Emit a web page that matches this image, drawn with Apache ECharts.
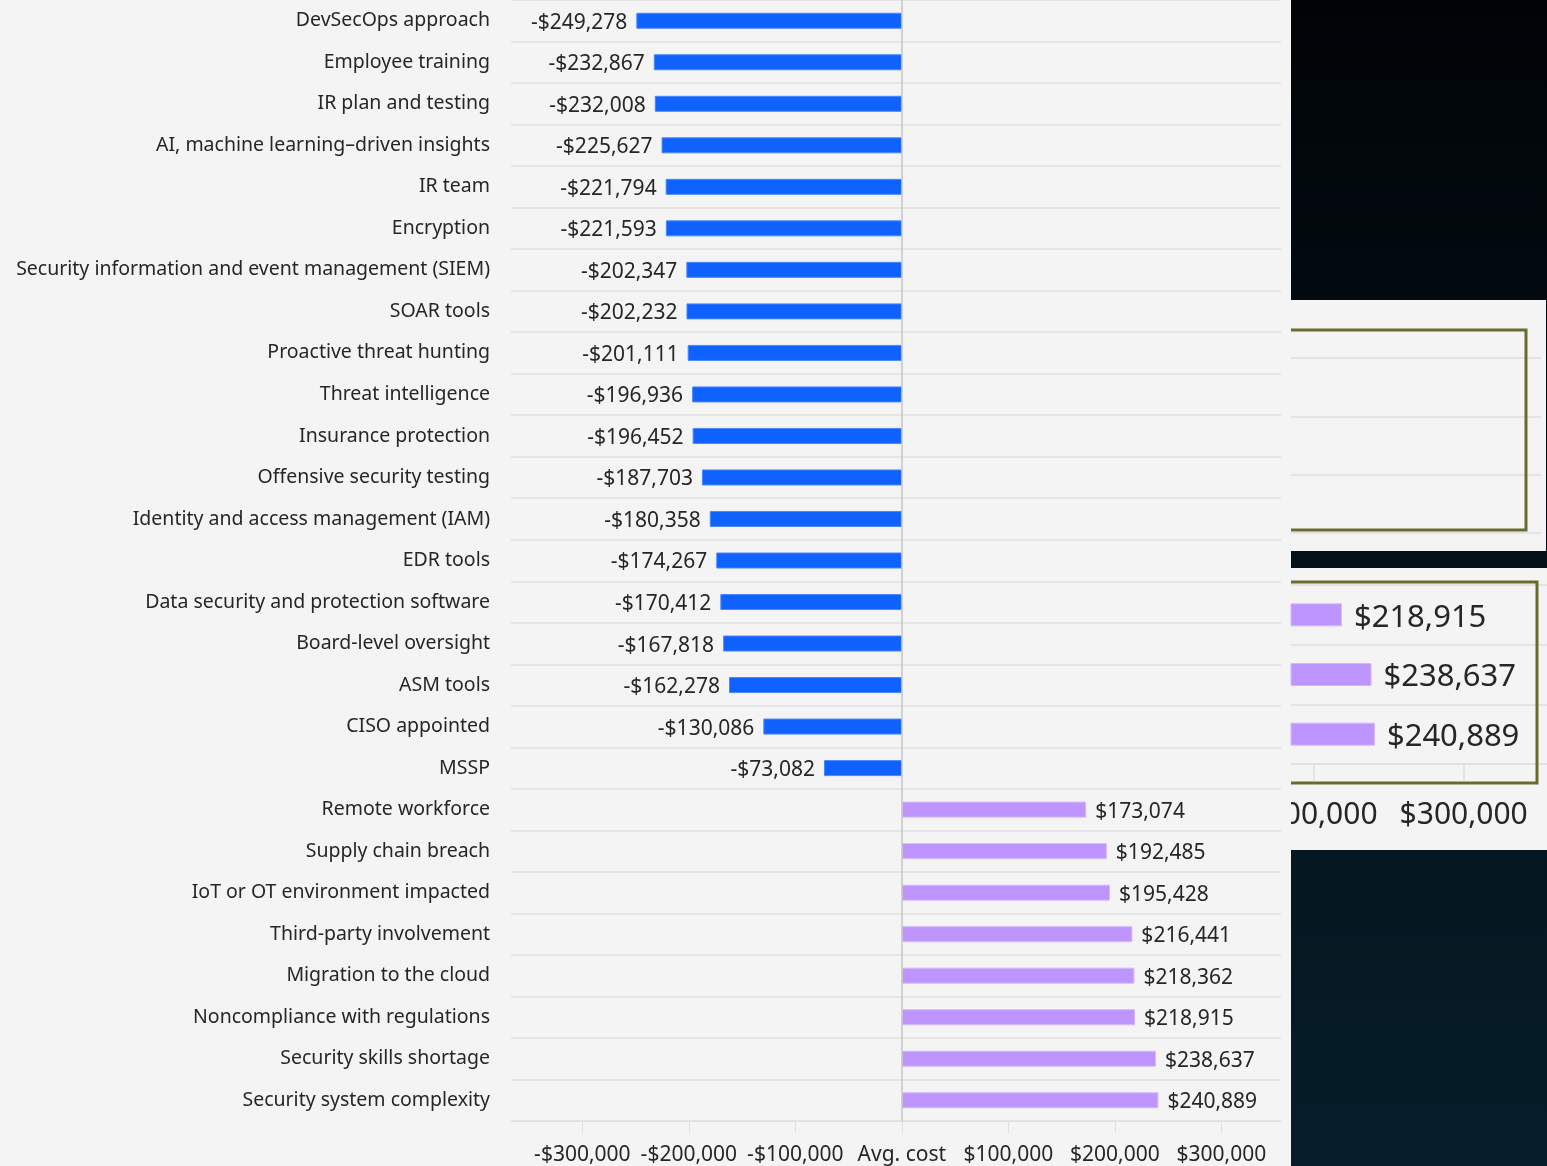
<!DOCTYPE html>
<html>
<head>
<meta charset="utf-8">
<script src="https://cdn.jsdelivr.net/npm/echarts@6/dist/echarts.min.js"></script>
<style>
html,body{margin:0;padding:0;background:#f4f4f4;}
#c{width:1547px;height:1166px;}
</style>
</head>
<body>
<div id="c"></div>
<script>
// Factors that reduce average breach cost (USD)
const reducingFactors = [
  'DevSecOps approach','Employee training','IR plan and testing','AI, machine learning–driven insights',
  'IR team','Encryption','Security information and event management (SIEM)','SOAR tools',
  'Proactive threat hunting','Threat intelligence','Insurance protection','Offensive security testing',
  'Identity and access management (IAM)','EDR tools','Data security and protection software',
  'Board-level oversight','ASM tools','CISO appointed','MSSP'
];
const reducingValues = [
  -249278,-232867,-232008,-225627,-221794,-221593,-202347,-202232,-201111,-196936,
  -196452,-187703,-180358,-174267,-170412,-167818,-162278,-130086,-73082
];
// Factors that amplify average breach cost (USD)
const amplifyingFactors = [
  'Remote workforce','Supply chain breach','IoT or OT environment impacted','Third-party involvement',
  'Migration to the cloud','Noncompliance with regulations','Security skills shortage','Security system complexity'
];
const amplifyingValues = [173074,192485,195428,216441,218362,218915,238637,240889];
// Axis tick values and labels
const tickValues = [-300000,-200000,-100000,0,100000,200000,300000];
const tickLabels = ['-$300,000','-$200,000','-$100,000','Avg. cost','$100,000','$200,000','$300,000'];
const zoomTickValues = [200000,300000];

const categories = reducingFactors.concat(amplifyingFactors);
const nR = reducingFactors.length, nA = amplifyingFactors.length;
const blueData = reducingValues.concat(new Array(nA).fill(null));
const purpleData = new Array(nR).fill(null).concat(amplifyingValues);
// zoomed inset: last three amplifying factors
const zoomCats = amplifyingFactors.slice(-3);
const zoomVals = amplifyingValues.slice(-3);

const FONT = 'Noto Sans';
const TXT = '#262626';
function money(v){
  const s = Math.abs(v).toLocaleString('en-US');
  return (v < 0 ? '-$' : '$') + s;
}
function tickFmt(v){
  const i = tickValues.indexOf(v);
  return i >= 0 ? tickLabels[i] : money(v);
}

const chart = echarts.init(document.getElementById('c'), null, {renderer:'canvas'});
chart.setOption({
  backgroundColor:'#f4f4f4',
  animation:false,
  graphic:[
    {type:'rect', z:-20, shape:{x:1291,y:0,width:256,height:1166},
     style:{fill:new echarts.graphic.LinearGradient(0,0,0,1,[{offset:0,color:'#010407'},{offset:1,color:'#061e2a'}])}},
    {type:'rect', z:-15, shape:{x:1291,y:300,width:255,height:251}, style:{fill:'#f4f4f4'}},
    {type:'rect', z:-15, shape:{x:1291,y:568,width:256,height:282}, style:{fill:'#f4f4f4'}},
    {type:'polyline', z:50, shape:{points:[[1291,330],[1526,330],[1526,530],[1291,530]]},
     style:{stroke:'#6b6a2e',lineWidth:3,fill:null}},
    {type:'polyline', z:50, shape:{points:[[1291,582],[1537,582],[1537,783],[1291,783]]},
     style:{stroke:'#6b6a2e',lineWidth:3,fill:null}},
    {type:'rect', z:100, shape:{x:1225,y:794,width:66,height:36}, style:{fill:'#f4f4f4'}}
  ],
  grid:[
    {left:511, top:0, width:770, height:1121, containLabel:false},
    {left:1291, top:585, width:261, height:179, containLabel:false},
    {left:1291, top:358, width:250, height:175, containLabel:false}
  ],
  xAxis:[
    {type:'value', gridIndex:0, min:-367000, max:356000,
     axisLine:{show:true, lineStyle:{color:'#e0e0e0', width:1}},
     axisTick:{show:true, customValues:tickValues, length:12, lineStyle:{color:'#e0e0e0'}},
     axisLabel:{customValues:tickValues, formatter:tickFmt, color:TXT, fontSize:21, fontFamily:FONT, margin:24},
     splitLine:{show:false}},
    {type:'value', gridIndex:1, min:185000, max:355500,
     axisLine:{show:true, lineStyle:{color:'#e0e0e0', width:1.5}},
     axisTick:{show:true, customValues:zoomTickValues, length:17, lineStyle:{color:'#e0e0e0', width:1.5}},
     axisLabel:{customValues:zoomTickValues, formatter:money, color:TXT, fontSize:30, fontFamily:FONT, margin:36},
     splitLine:{show:false}},
    {type:'value', gridIndex:2, min:185000, max:355500, show:false}
  ],
  yAxis:[
    {type:'category', gridIndex:0, inverse:true, data:categories,
     axisLine:{show:false}, axisTick:{show:false},
     axisLabel:{color:TXT, fontSize:19.5, fontFamily:FONT, margin:21, padding:[7,0,0,0]},
     splitLine:{show:true, lineStyle:{color:'#e0e0e0', width:1.5}}},
    {type:'category', gridIndex:1, inverse:true, data:zoomCats,
     axisLine:{show:false}, axisTick:{show:false}, axisLabel:{show:false},
     splitLine:{show:true, lineStyle:{color:'#e4e4e4', width:2}}},
    {type:'category', gridIndex:2, inverse:true, data:amplifyingFactors.slice(0,3),
     axisLine:{show:false}, axisTick:{show:false}, axisLabel:{show:false},
     splitLine:{show:true, lineStyle:{color:'#e4e4e4', width:2}}}
  ],
  series:[
    {type:'bar', xAxisIndex:0, yAxisIndex:0, data:blueData, barWidth:16, barGap:'-100%',
     itemStyle:{color:'#0f62fe', borderColor:'#4a86ff', borderWidth:1},
     label:{show:true, position:'left', distance:9, offset:[0,2], formatter:p=>money(p.value),
            color:TXT, fontSize:21, fontFamily:FONT},
     markLine:{silent:true, symbol:'none', label:{show:false},
               lineStyle:{color:'#c6c6c6', type:'solid', width:1.5},
               data:[{xAxis:0}]}},
    {type:'bar', xAxisIndex:0, yAxisIndex:0, data:purpleData, barWidth:16, barGap:'-100%',
     itemStyle:{color:'#be95ff', borderColor:'#d4b8ff', borderWidth:1},
     label:{show:true, position:'right', distance:9, offset:[0,2], formatter:p=>money(p.value),
            color:TXT, fontSize:21, fontFamily:FONT}},
    {type:'bar', xAxisIndex:1, yAxisIndex:1, data:zoomVals, barWidth:23,
     itemStyle:{color:'#be95ff', borderColor:'#d4b8ff', borderWidth:1},
     label:{show:true, position:'right', distance:12, offset:[0,3], formatter:p=>money(p.value),
            color:TXT, fontSize:31, fontFamily:FONT}}
  ]
});
</script>
</body>
</html>
